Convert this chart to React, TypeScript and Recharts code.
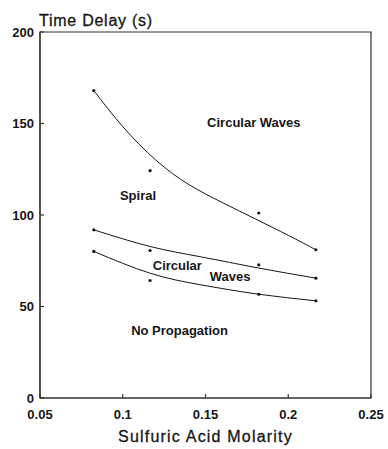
import React from 'react';
import {
  ComposedChart,
  Line,
  Scatter,
  XAxis,
  YAxis,
  ReferenceArea,
  ReferenceDot,
  Label,
} from 'recharts';

// Measured points: sulfuric acid molarity vs. time delay (s)
const molarity = [0.0825, 0.1165, 0.1822, 0.2167];
const spiralBoundary = [168.0, 124.2, 101.1, 81.0];
const upperWaveBoundary = [91.9, 80.6, 72.8, 65.5];
const lowerWaveBoundary = [80.1, 64.2, 56.7, 53.1];

// Smooth fitted boundary curves (sampled along each fit)
const spiralFitMolarity = [0.0825, 0.1, 0.12, 0.14, 0.16, 0.18, 0.2, 0.2167];
const spiralFit = [168.0, 148.3, 130.0, 116.6, 106.9, 97.9, 88.9, 81.0];
const waveFitMolarity = [0.0825, 0.1165, 0.1474, 0.1822, 0.2167];
const upperWaveFit = [91.9, 82.8, 77.1, 71.0, 65.5];
const lowerWaveFit = [80.1, 68.2, 61.8, 56.7, 53.1];

// Axis ticks
const xTicks = [0.05, 0.1, 0.15, 0.2, 0.25];
const yTicks = [0, 50, 100, 150, 200];

// Region annotations
const regionLabels = [
  { text: 'Circular Waves', x: 0.1792, y: 150.6 },
  { text: 'Spiral', x: 0.1092, y: 110.8 },
  { text: 'Circular', x: 0.133, y: 72.3 },
  { text: 'Waves', x: 0.1649, y: 66.2 },
  { text: 'No Propagation', x: 0.1343, y: 36.7 },
];

const toPoints = (xs: number[], ys: number[]) => xs.map((x, i) => ({ x, y: ys[i] }));

const INK = '#161616';
const FONT = '"Liberation Sans", Arial, Helvetica, sans-serif';

const dotShape = (p: any) => <circle cx={p.cx} cy={p.cy} r={1.6} fill={INK} />;

const TitleLabel = (props: any) => {
  const vb = props.viewBox || { x: 0, y: 32, width: 40 };
  return (
    <text
      x={vb.x + vb.width - 1}
      y={vb.y - 6}
      fill={INK}
      fontSize={16}
      fontFamily={FONT}
      letterSpacing={0.75}
      stroke={INK}
      strokeWidth={0.3}
    >
      Time Delay (s)
    </text>
  );
};

export default function App() {
  const tickStyle = { fill: INK, fontSize: 13, fontFamily: FONT, fontWeight: 700 };
  return (
    <div style={{ position: 'absolute', left: 0, top: 0, background: '#fff' }}>
      <ComposedChart
        width={388}
        height={449}
        margin={{ top: 32, right: 17, bottom: 0, left: 0 }}
        style={{ background: '#fff' }}
      >
        <XAxis
          type="number"
          dataKey="x"
          domain={[0.05, 0.25]}
          ticks={xTicks}
          allowDataOverflow
          height={51}
          tickSize={-4}
          tickMargin={16}
          tick={tickStyle}
          tickFormatter={(v: number) => String(v)}
          axisLine={{ stroke: '#333', strokeWidth: 1.2 }}
          tickLine={{ stroke: '#333', strokeWidth: 1.2 }}
        >
          <Label
            value="Sulfuric Acid Molarity"
            position="insideBottom"
            offset={7}
            style={{
              fill: INK,
              fontSize: 16,
              fontFamily: FONT,
              letterSpacing: 1.2,
              stroke: INK,
              strokeWidth: 0.3,
            }}
          />
        </XAxis>
        <YAxis
          type="number"
          domain={[0, 200]}
          ticks={yTicks}
          allowDataOverflow
          width={40}
          tickSize={-4}
          tickMargin={10}
          tick={tickStyle}
          axisLine={{ stroke: '#333', strokeWidth: 1.2 }}
          tickLine={{ stroke: '#333', strokeWidth: 1.2 }}
        >
          <Label content={TitleLabel} />
        </YAxis>

        <ReferenceArea
          x1={0.05}
          x2={0.25}
          y1={0}
          y2={200}
          fill="none"
          stroke="#333"
          strokeWidth={1.2}
          fillOpacity={0}
        />

        <Line
          data={toPoints(spiralFitMolarity, spiralFit)}
          dataKey="y"
          type="natural"
          stroke={INK}
          strokeWidth={1}
          dot={false}
          isAnimationActive={false}
        />
        <Line
          data={toPoints(waveFitMolarity, upperWaveFit)}
          dataKey="y"
          type="natural"
          stroke={INK}
          strokeWidth={1}
          dot={false}
          isAnimationActive={false}
        />
        <Line
          data={toPoints(waveFitMolarity, lowerWaveFit)}
          dataKey="y"
          type="natural"
          stroke={INK}
          strokeWidth={1}
          dot={false}
          isAnimationActive={false}
        />

        <Scatter data={toPoints(molarity, spiralBoundary)} dataKey="y" shape={dotShape} isAnimationActive={false} />
        <Scatter data={toPoints(molarity, upperWaveBoundary)} dataKey="y" shape={dotShape} isAnimationActive={false} />
        <Scatter data={toPoints(molarity, lowerWaveBoundary)} dataKey="y" shape={dotShape} isAnimationActive={false} />

        {regionLabels.map((l) => (
          <ReferenceDot
            key={l.text}
            x={l.x}
            y={l.y}
            r={1}
            fill="none"
            stroke="none"
            label={{
              value: l.text,
              position: 'center',
              fill: INK,
              fontSize: 13,
              fontWeight: 700,
              fontFamily: FONT,
            }}
          />
        ))}
      </ComposedChart>
    </div>
  );
}
